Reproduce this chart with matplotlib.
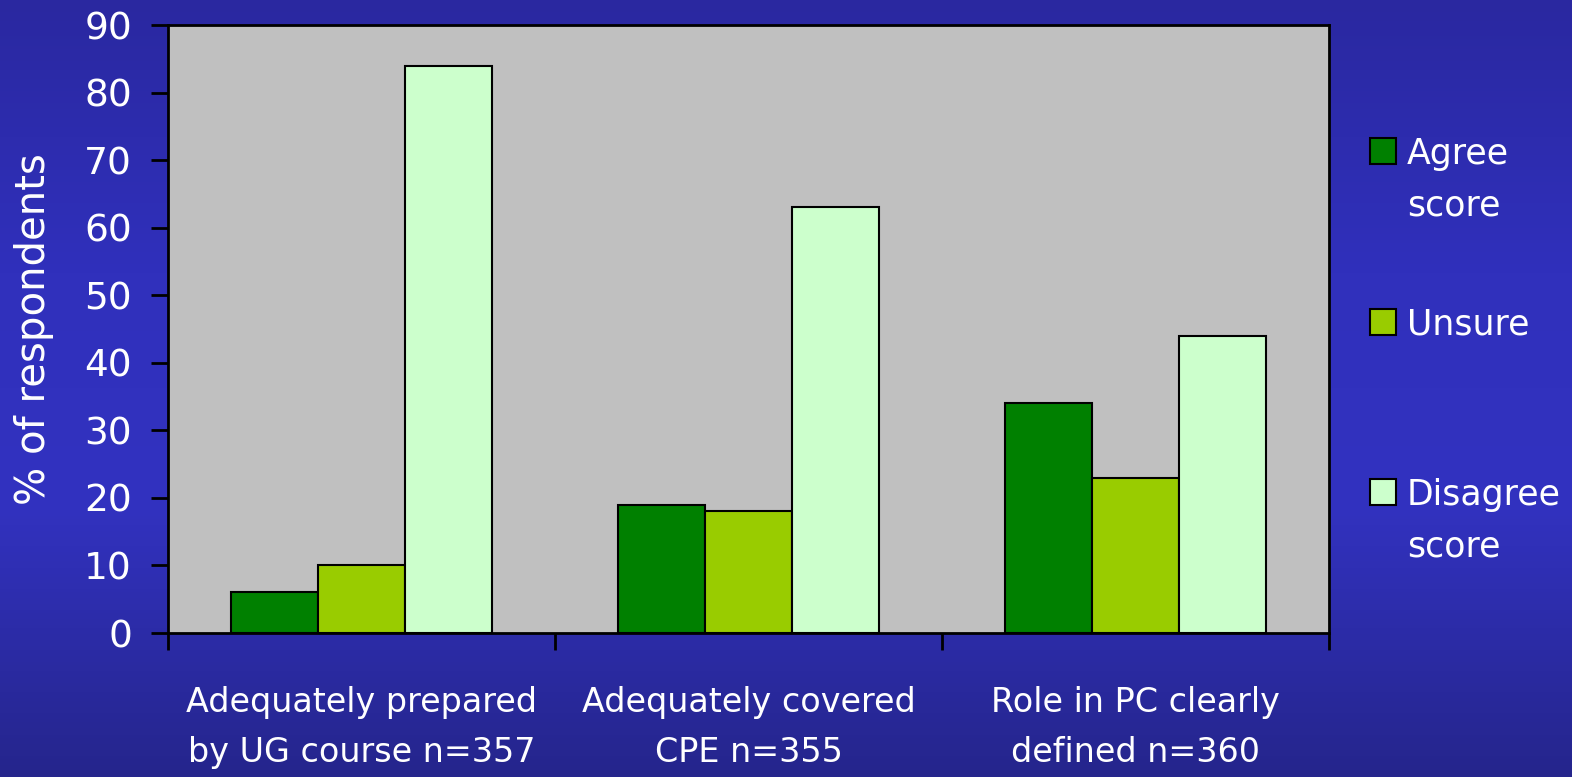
import numpy as np
import matplotlib
matplotlib.use("Agg")
import matplotlib.pyplot as plt
from matplotlib.colors import LinearSegmentedColormap
from matplotlib.patches import Rectangle

categories = ["Adequately prepared\nby UG course n=357",
              "Adequately covered\nCPE n=355",
              "Role in PC clearly\ndefined n=360"]
series_names = ["Agree\nscore", "Unsure", "Disagree\nscore"]
agree = [6, 19, 34]
unsure = [10, 18, 23]
disagree = [84, 63, 44]
yticks = [0, 10, 20, 30, 40, 50, 60, 70, 80, 90]

colors = ["#008000", "#99cc00", "#ccffcc"]
plt.rcParams["font.family"] = ["DejaVu Sans"]

W, H = 1572, 777
fig = plt.figure(figsize=(W / 100, H / 100), dpi=100)

# blue slide background, darker at top and bottom
bg = fig.add_axes([0, 0, 1, 1], zorder=-10)
cmap = LinearSegmentedColormap.from_list(
    "slide", [(0, "#2a28a0"), (0.35, "#3030bc"), (0.65, "#3232c0"), (1, "#25258c")])
grad = np.linspace(0, 1, 256).reshape(-1, 1)
bg.imshow(grad, cmap=cmap, aspect="auto", extent=[0, 1, 0, 1])
bg.axis("off")

ax = fig.add_axes([0.1069, 0.1853, 0.7386, 0.7825])
ax.set_facecolor("#c0c0c0")

x = np.arange(len(categories))
w = 0.225
for i, vals in enumerate([agree, unsure, disagree]):
    ax.bar(x + (i - 1) * w, vals, w, color=colors[i], edgecolor="black",
           linewidth=1.5, label=series_names[i])

ax.set_xlim(-0.5, 2.5)
ax.set_ylim(0, 90)
ax.set_yticks(yticks)
ax.tick_params(axis="y", labelsize=27, labelcolor="white", color="black",
               length=12, width=2, pad=14, direction="out")

ax.set_xticks(x)
ax.set_xticklabels(categories, fontsize=24, color="white", linespacing=1.65)
ax.tick_params(axis="x", length=0, pad=38)
ax.set_xticks([-0.5, 0.5, 1.5, 2.5], minor=True)
ax.tick_params(axis="x", which="minor", length=12, width=2, color="black")

for s in ax.spines.values():
    s.set_color("black")
    s.set_linewidth(2)

ax.set_ylabel("% of respondents", fontsize=29, color="white", labelpad=22)

# legend: swatch aligned with the first line of each label
leg_rows = [151, 322, 492]
for name, c, yc in zip(series_names, colors, leg_rows):
    fig.patches.append(Rectangle((1370 / W, 1 - (yc + 13) / H), 26 / W, 26 / H,
                                 transform=fig.transFigure, facecolor=c,
                                 edgecolor="black", linewidth=1.5))
    fig.text(1407 / W, 1 - (yc - 14) / H, name, fontsize=25, color="white",
             va="top", ha="left", linespacing=1.65)

fig.savefig("out.png", dpi=100)
